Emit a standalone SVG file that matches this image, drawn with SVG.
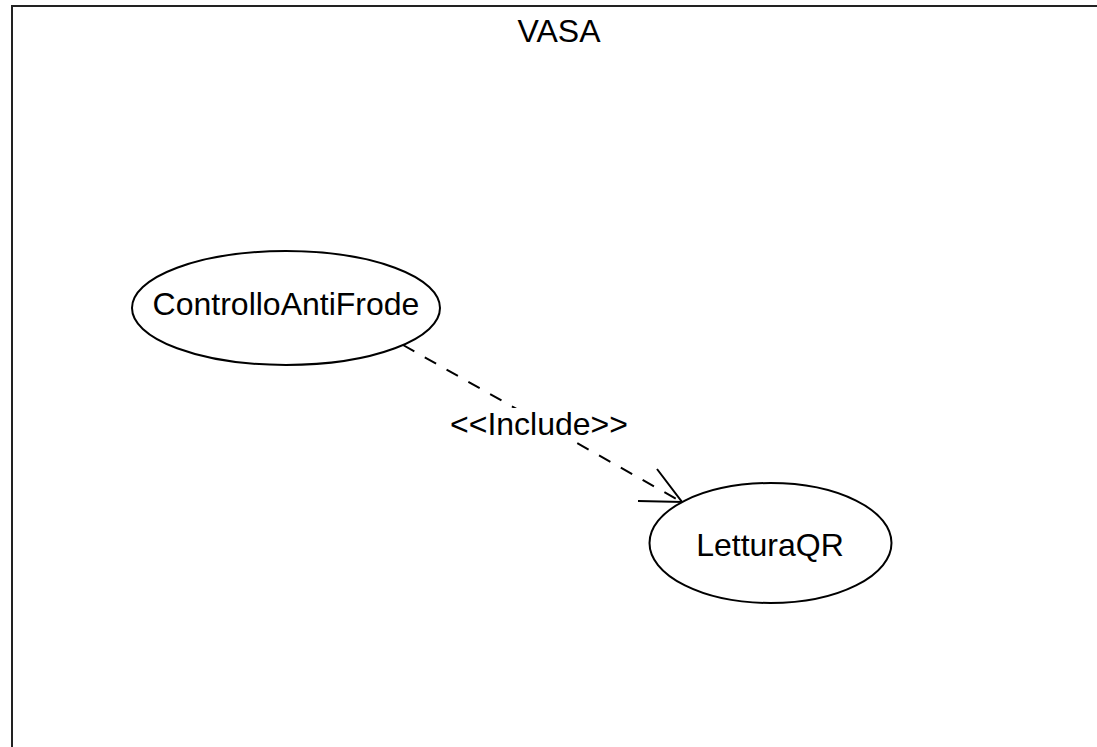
<svg xmlns="http://www.w3.org/2000/svg" width="1097" height="747" viewBox="0 0 1097 747">
  <style>
    .lbl { font-family: "Liberation Sans", Arial, sans-serif; font-size: 32px; fill: #000; }
    .uc { fill: #fff; stroke: #000; stroke-width: 2; }
    .dash { fill: none; stroke: #000; stroke-width: 2; stroke-dasharray: 13 12; }
    .head { fill: none; stroke: #000; stroke-width: 2; }
  </style>
  <rect x="0" y="0" width="1097" height="747" fill="#fff"/>
  <g id="system">
    <rect x="12" y="6" width="1100" height="760" fill="#fff" stroke="#222" stroke-width="2"/>
    <text class="lbl" x="559" y="42" text-anchor="middle">VASA</text>
  </g>
  <g id="connectors">
    <line class="dash" x1="403" y1="345" x2="680" y2="501"/>
    <polyline class="head" points="657,469 682,502 638,501"/>
    <rect x="446" y="408" width="186" height="34" fill="#fff"/>
    <text class="lbl" x="539" y="435" text-anchor="middle">&lt;&lt;Include&gt;&gt;</text>
  </g>
  <g id="controlloAntiFrode">
    <ellipse class="uc" cx="286" cy="308" rx="154" ry="57"/>
    <text class="lbl" x="286" y="315" text-anchor="middle">ControlloAntiFrode</text>
  </g>
  <g id="letturaQR">
    <ellipse class="uc" cx="770.5" cy="543" rx="121" ry="60"/>
    <text class="lbl" x="770" y="556" text-anchor="middle">LetturaQR</text>
  </g>
</svg>
